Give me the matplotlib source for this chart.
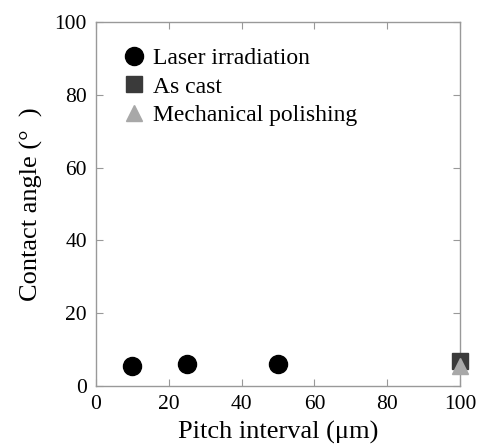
import matplotlib
matplotlib.use("Agg")
import matplotlib.pyplot as plt

plt.rcParams['font.family'] = ['Liberation Serif', 'DejaVu Serif']
plt.rcParams['mathtext.fontset'] = 'stix'

laser_x = [10, 25, 50]
laser_y = [5.5, 6.0, 6.0]
cast_x = [100]
cast_y = [7.0]
polish_x = [100]
polish_y = [5.5]

xticks = [0, 20, 40, 60, 80, 100]
yticks = [0, 20, 40, 60, 80, 100]

fig = plt.figure(figsize=(4.83, 4.48), dpi=100)
ax = fig.add_axes([96/483, 62/448, 364/483, 364/448])

ax.plot(laser_x, laser_y, 'o', color='black', markersize=13, label='Laser irradiation', clip_on=False, zorder=3)
ax.plot(cast_x, cast_y, 's', color='#3a3a3a', markersize=11.5, label='As cast', clip_on=False, zorder=3)
ax.plot(polish_x, polish_y, '^', color='#a8a8a8', markersize=12, label='Mechanical polishing', clip_on=False, zorder=4)

ax.set_xlim(0, 100)
ax.set_ylim(0, 100)
ax.set_xticks(xticks)
ax.set_yticks(yticks)
ax.tick_params(direction='in', length=5, width=0.8, color='#999999', top=True, right=True,
               labelsize=15.5, pad=6.5)
for s in ax.spines.values():
    s.set_color('#999999')
    s.set_linewidth(1.0)

ax.set_xlabel('Pitch interval (μm)', fontsize=19, labelpad=5)
ax.set_ylabel('Contact angle (°  )', fontsize=19, labelpad=8)

ax.legend(loc='upper left', bbox_to_anchor=(0.065, 0.929), frameon=False, fontsize=17,
          handletextpad=0.2, labelspacing=0.29, handlelength=1.2, borderaxespad=0, borderpad=0)

fig.savefig('out.png', dpi=100)
